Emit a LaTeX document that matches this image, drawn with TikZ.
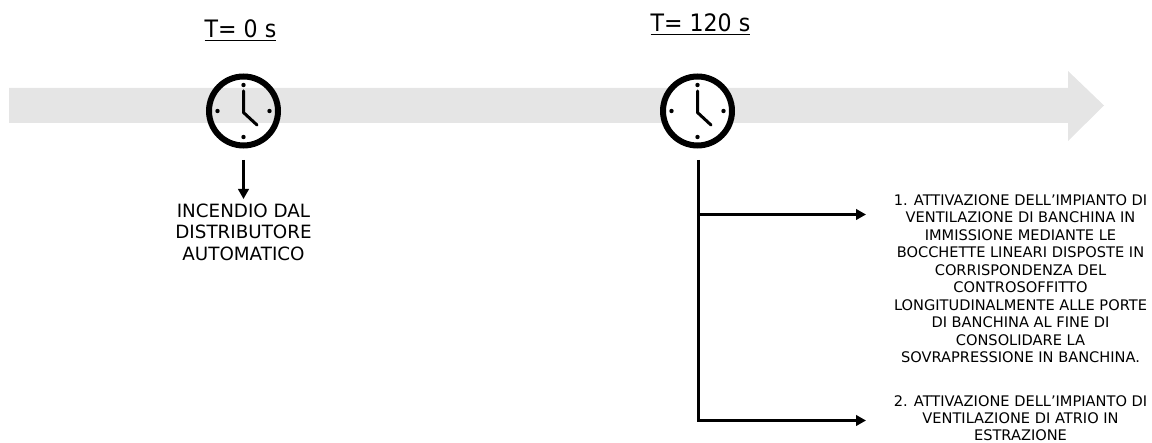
\documentclass[tikz,border=0pt]{standalone}
\usepackage{fontspec}
\setmainfont{DejaVu Sans}
\newfontfamily\narrowfont[FakeStretch=0.92]{DejaVu Sans}
\usetikzlibrary{arrows.meta}
\tikzset{
	clockface/.style={draw, circle, line width=6pt, minimum size=69pt, inner sep=0pt},
	conn/.style={line width=3pt, -{Triangle[length=10pt, width=10.5pt]}},
	stem/.style={line width=3pt},
	timelabel/.style={font=\narrowfont\fontsize{24}{28}\selectfont, inner sep=0pt, anchor=base},
	firelabel/.style={font=\fontsize{18.3}{21.6}\selectfont, align=center, inner sep=0pt},
	noteslabel/.style={font=\fontsize{14.6}{17.5}\selectfont, align=center, inner sep=0pt},
	clockhands/.pic={
		\draw[line width=3pt, line cap=round, line join=round] (0, -20) -- (0, 1.5) -- (13.5, 14);
		\foreach \a in {0, 90, 180, 270}
			\fill (\a:26) circle (2.2);
	}
}
\begin{document}
\begin{tikzpicture}[x=1pt, y=-1pt]
	\useasboundingbox (0, 0) rectangle (1152, 443);
	\fill[black!10] (9, 88) -- (1068, 88) -- (1068, 71) -- (1104, 105.5) -- (1068, 141) -- (1068, 123) -- (9, 123) -- cycle;

	\node[timelabel] (t1) at (240.5, 38) {\underline{T= 0 s}};
	\node[timelabel] (t2) at (700.5, 32) {\underline{T= 120 s}};

	\node[clockface] (c1) at (243.5, 111) {};
	\node[clockface, fill=white] (c2) at (697.5, 111) {};
	\pic at (c1) {clockhands};
	\pic at (c2) {clockhands};

	\coordinate (a1) at (243.5, 160);
	\coordinate (a2) at (698, 160);
	\coordinate (b1) at (698, 214.5);
	\coordinate (b2) at (698, 420.5);
	\coordinate (e1) at (866, 214.5);
	\coordinate (e2) at (866, 420.5);
	\coordinate (e3) at (243.5, 199);

	\node[firelabel, anchor=north] (fire) at (243.5, 203.5) {INCENDIO DAL\\DISTRIBUTORE\\AUTOMATICO};
	\node[noteslabel, anchor=north] (n1) at (1020.5, 194) {1. ATTIVAZIONE DELL'IMPIANTO DI\\VENTILAZIONE DI BANCHINA IN\\IMMISSIONE MEDIANTE LE\\BOCCHETTE LINEARI DISPOSTE IN\\CORRISPONDENZA DEL\\CONTROSOFFITTO\\LONGITUDINALMENTE ALLE PORTE\\DI BANCHINA AL FINE DI\\CONSOLIDARE LA\\SOVRAPRESSIONE IN BANCHINA.};
	\node[noteslabel, anchor=north, font=\fontsize{14.6}{17}\selectfont] (n2) at (1020.5, 395) {2. ATTIVAZIONE DELL'IMPIANTO DI\\VENTILAZIONE DI ATRIO IN\\ESTRAZIONE};

	\draw[conn] (a1) -- (e3);
	\draw[stem] (a2) -- (b2) -- ++(1.5, 0);
	\draw[conn] (b1) -- (e1);
	\draw[conn] (b2) -- (e2);
\end{tikzpicture}
\end{document}
